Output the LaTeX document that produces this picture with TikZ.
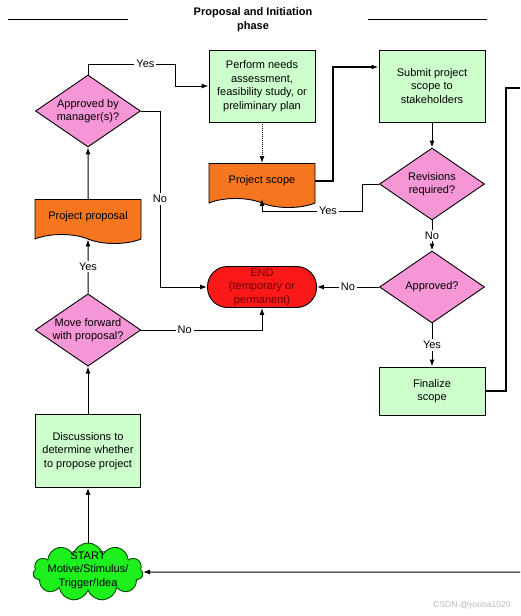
\documentclass[tikz,border=0pt]{standalone}
\usepackage{fontspec}
\setmainfont{Liberation Sans}
\usetikzlibrary{shapes.geometric,shapes.symbols,arrows.meta}
\definecolor{boxgreen}{RGB}{204,255,204}
\definecolor{decpink}{RGB}{245,150,215}
\definecolor{docorange}{RGB}{245,118,30}
\definecolor{endred}{RGB}{250,25,25}
\definecolor{endtext}{RGB}{110,0,0}
\definecolor{startgreen}{RGB}{30,240,30}
\definecolor{markgray}{RGB}{185,185,185}
\begin{document}
\begin{tikzpicture}[x=1pt,y=-1pt,
    font=\fontsize{11}{13.5}\selectfont,
    every node/.style={align=center},
    task/.style={draw,fill=boxgreen,line width=0.9pt,minimum width=106pt,minimum height=72pt,inner sep=0pt},
    decision/.style={diamond,draw,fill=decpink,line width=0.9pt,minimum width=105pt,minimum height=72pt,inner sep=0pt,aspect=1.46},
    doc/.style={tape,draw,fill=docorange,line width=0.9pt,tape bend top=none,tape bend bottom=out and in,tape bend height=9pt,minimum width=106pt,minimum height=44pt,inner sep=0pt},
    term/.style={draw,fill=endred,line width=0.9pt,rounded corners=20pt,minimum width=109pt,minimum height=41pt,inner sep=0pt,text=endtext},
    lbl/.style={fill=white,inner sep=2pt},
    arr/.style={-{Latex[length=7pt,width=5pt]},line width=1pt}]
  \useasboundingbox (0,0) rectangle (520,616);
  \draw
    (253,20) node[font=\fontsize{11}{14}\selectfont\bfseries] (title){Proposal and Initiation\\phase}
    (262,86) node[task] (perform){Perform needs\\assessment,\\feasibility study, or\\preliminary plan}
    (432,86) node[task] (submit){Submit project\\scope to\\stakeholders}
    (88,111) node[decision] (mgr){Approved by\\manager(s)?}
    (262,181) node[doc] (scope){Project scope}
    (432,184) node[decision] (rev){Revisions\\required?}
    (88,217) node[doc] (proposal){Project proposal}
    (262,287) node[term] (endn){END\\(temporary or\\permanent)}
    (432,287) node[decision] (app){Approved?}
    (88,330) node[decision,minimum height=70pt] (move){Move forward\\with proposal?}
    (432,391) node[task,minimum height=48pt] (fin){Finalize\\scope}
    (88,451) node[task,minimum width=105pt,minimum height=73pt] (disc){Discussions to\\determine whether\\to propose project}
    (88,572) node[cloud,draw=black!70!green,fill=startgreen,line width=0.9pt,cloud puffs=11,aspect=2,minimum width=110pt,minimum height=58pt,inner sep=0pt] (start){}
    (88,570) node (starttxt){START\\Motive/Stimulus/\\Trigger/Idea}
    (472,605) node[font=\fontsize{8.5}{10}\selectfont,text=markgray] (mark){CSDN @yoona1020};
  \coordinate (exitR) at (520,88);
  \coordinate (entryR) at (520,572);
  \draw[line width=1pt] (8,19) -- (128,19);
  \draw[line width=1pt] (368,19) -- (487,19);
  \begin{scope}[arr]
    \draw (start) -- (disc);
    \draw (disc) -- (move);
    \draw (move) -- node[lbl]{Yes} (proposal);
    \draw (proposal) -- (mgr);
    \draw (mgr.north) |- node[lbl,pos=0.83]{Yes} (175,64) |- (perform.west);
    \draw (mgr.east) -| node[lbl,pos=0.75]{No} (160,287) -- (endn.west);
    \draw (move.east) -| node[lbl,pos=0.18]{No} (endn.south);
    \draw[densely dotted] (perform) -- (scope);
    \draw[line width=1.5pt] (scope.east) -| (333,67) -- (submit.west |- 333,67);
    \draw (submit) -- (rev);
    \draw (rev.west) -| (362,211) -| node[lbl,pos=0.17]{Yes} (scope.south);
    \draw (rev) -- node[lbl]{No} (app);
    \draw (app) -- node[lbl]{No} (endn);
    \draw (app) -- node[lbl]{Yes} (fin);
    \draw (entryR) -- (start.east);
  \end{scope}
  \draw[line width=1.5pt] (fin.east) -| (506,88) -- (exitR);
\end{tikzpicture}
\end{document}
